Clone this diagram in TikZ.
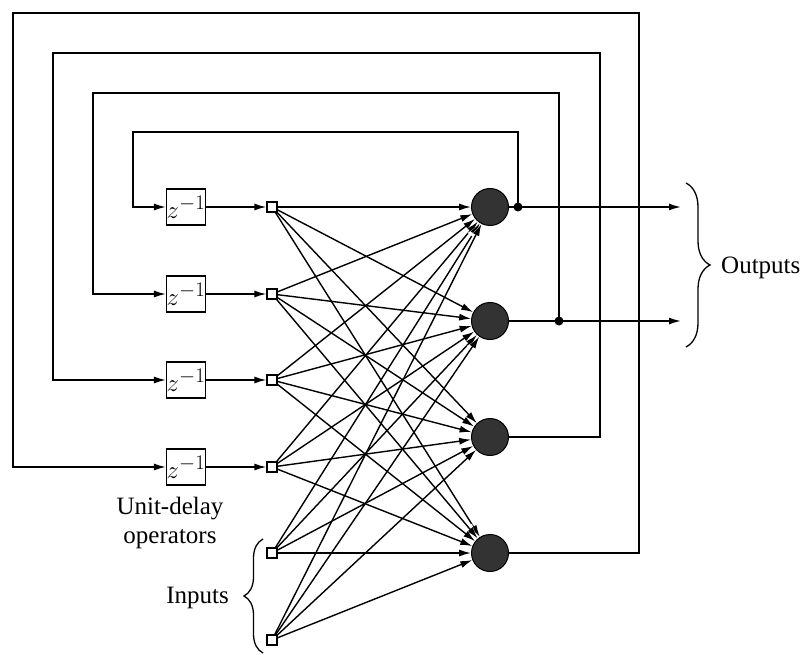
\documentclass[tikz,border=0pt]{standalone}
\usepackage{fontspec}
\setmainfont{Liberation Serif}
\usetikzlibrary{arrows.meta,decorations.pathreplacing,calc}
\begin{document}
\begin{tikzpicture}[x=1pt,y=-1pt,
  wire/.style={line width=1.6pt},
  tip/.style={-{Latex[length=12pt,width=7pt]}},
  halo/.style={white,line width=1.6pt,-{Latex[length=15pt,width=10.5pt]}},
  inbox/.style={draw,fill=white,line width=1.2pt,minimum size=10pt,inner sep=0pt},
  delaybox/.style={draw,line width=1.5pt,minimum width=38pt,minimum height=36pt,inner sep=0pt,font=\fontsize{29}{31}\selectfont},
  neuron/.style={circle,draw,line width=1pt,fill=black!80,minimum size=37pt,inner sep=0pt},
  junction/.style={circle,fill=black,minimum size=9pt,inner sep=0pt},
  lab/.style={font=\fontsize{25}{29}\selectfont,align=center,inner sep=0pt},
  bracestyle/.style={decorate,line width=1.3pt}
]
\useasboundingbox (0,0) rectangle (803,655);

% source squares
\node[inbox] (s1) at (272,207) {};
\node[inbox] (s2) at (272,294) {};
\node[inbox] (s3) at (272,380) {};
\node[inbox] (s4) at (272,467) {};
\node[inbox] (s5) at (272,553) {};
\node[inbox] (s6) at (272,640) {};

% delay boxes
\node[delaybox] (d1) at (186,207) {$z^{-1}$};
\node[delaybox] (d2) at (186,294) {$z^{-1}$};
\node[delaybox] (d3) at (186,380) {$z^{-1}$};
\node[delaybox] (d4) at (186,467) {$z^{-1}$};

% neurons
\node[neuron] (n1) at (490,207) {};
\node[neuron] (n2) at (490,321) {};
\node[neuron] (n3) at (490,437) {};
\node[neuron] (n4) at (490,553) {};

% corner coordinates
\coordinate (a1) at (518,132); \coordinate (b1) at (133,132); \coordinate (e1) at (133,207);
\coordinate (a2) at (559,93);  \coordinate (b2) at (93,93);   \coordinate (e2) at (93,294);
\coordinate (r3) at (600,437); \coordinate (a3) at (600,53);  \coordinate (b3) at (53,53);   \coordinate (e3) at (53,380);
\coordinate (r4) at (639,553); \coordinate (a4) at (639,13);  \coordinate (b4) at (13,13);   \coordinate (e4) at (13,467);
\coordinate (out1) at (681,207);
\coordinate (out2) at (681,321);

% feedback loops
\draw[wire,tip] (518,207) -- (a1) -- (b1) -- (e1) -- (d1.west);
\draw[wire,tip] (559,321) -- (a2) -- (b2) -- (e2) -- (d2.west);
\draw[wire,tip] (n3.east) -- (r3) -- (a3) -- (b3) -- (e3) -- (d3.west);
\draw[wire,tip] (n4.east) -- (r4) -- (a4) -- (b4) -- (e4) -- (d4.west);

% outputs
\draw[wire,tip] (n1.east) -- (out1);
\draw[wire,tip] (n2.east) -- (out2);
\node[junction] (o1) at (518,207) {};
\node[junction] (o2) at (559,321) {};

% delay to squares
\foreach \k in {1,...,4}{
  \draw[wire,tip] (d\k.east) -- (s\k.west);
}

% fully connected layer
\foreach \j in {1,...,6}{
  \foreach \i in {1,...,4}{
    \draw[halo] ($(s\j)!0.8!(n\i)$) -- (n\i);
    \draw[line width=1.4pt,tip] (s\j) -- (n\i);
  }
}
\foreach \j in {1,...,6}{ \node[inbox] at (s\j) {}; }

% braces and labels
\draw[bracestyle,decoration={brace,amplitude=24pt}] (686,183) -- (686,347);
\node[lab,anchor=west] (outl) at (721,268) {Outputs};
\draw[bracestyle,decoration={brace,amplitude=19pt}] (263,653) -- (263,539);
\node[lab,anchor=east] (inl) at (229,598) {Inputs};
\node[lab] (udl) at (170,523) {Unit-delay\\operators};
\end{tikzpicture}
\end{document}
